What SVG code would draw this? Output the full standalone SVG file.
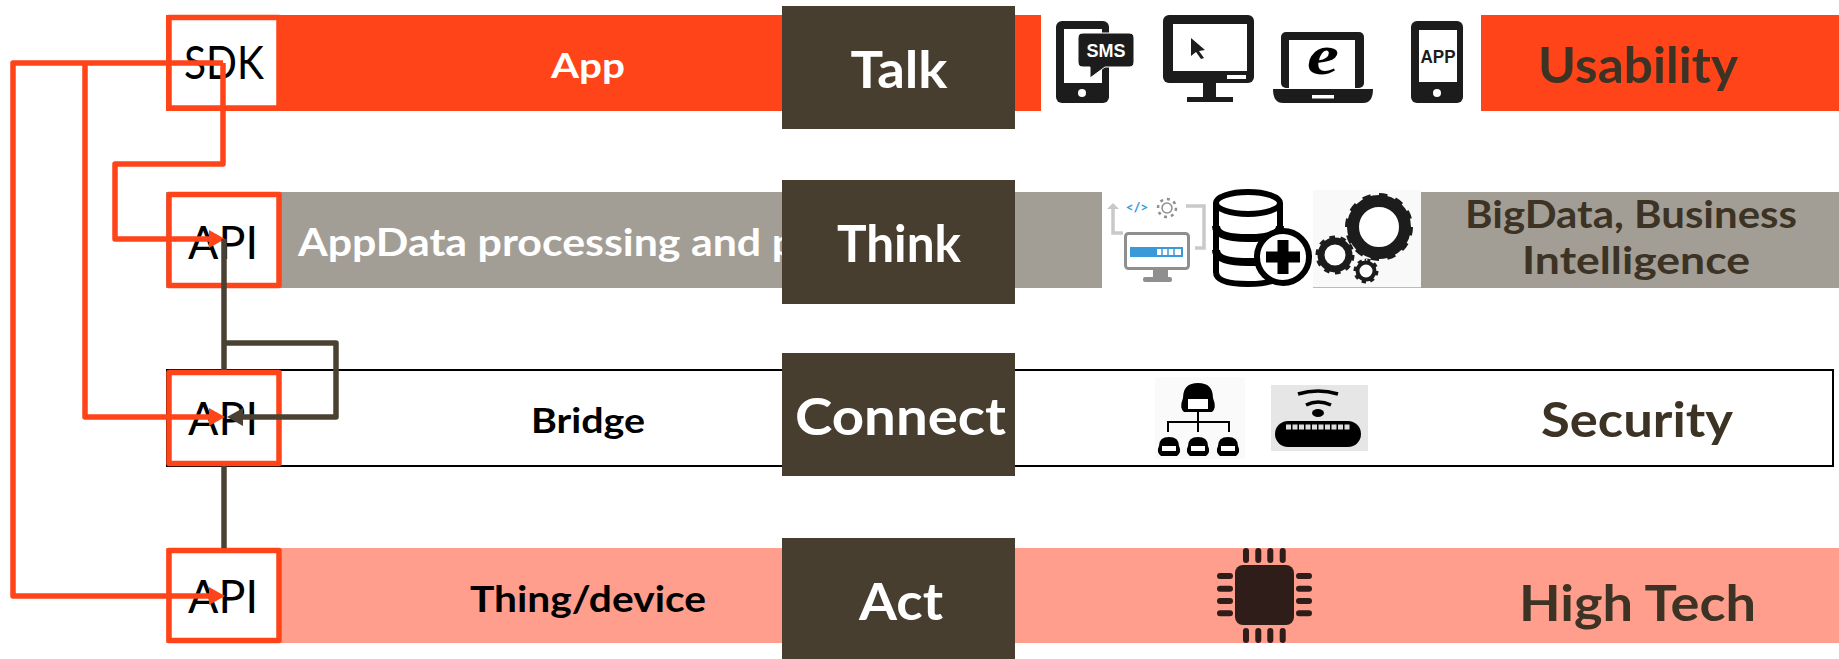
<svg xmlns="http://www.w3.org/2000/svg" width="1839" height="659" viewBox="0 0 1839 659">
<style>
text{font-family:"Lato","Liberation Sans",sans-serif}
.b{font-weight:700}
.w{fill:#fff}
.k{fill:#000}
.d{fill:#3d3325}
.big{font-size:52px;font-weight:700;fill:#fff;text-anchor:middle}
.thin{font-size:46px;font-weight:400;fill:#000}
.ic{font-family:"Liberation Sans",sans-serif;font-size:18px;font-weight:700;text-anchor:middle}
.box{fill:#fff;stroke:#ff4419;stroke-width:5.5;stroke-linejoin:round}
.core{fill:#483e2f}
.or{fill:none;stroke:#ff4419;stroke-width:5.5;stroke-linejoin:round}
.br{fill:none;stroke:#4a4133;stroke-width:5.5;stroke-linejoin:round}
.ink{fill:#1c1c1c}
.wf{fill:#fff}
</style>
<defs>
<marker id="ao" markerUnits="userSpaceOnUse" markerWidth="17" markerHeight="20" refX="0" refY="10" orient="auto"><path d="M0 1L16 10L0 19Z" fill="#ff4419"/></marker>
<marker id="ab" markerUnits="userSpaceOnUse" markerWidth="17" markerHeight="20" refX="0" refY="10" orient="auto"><path d="M0 1L16 10L0 19Z" fill="#4a4133"/></marker>
</defs>
<rect width="1839" height="659" fill="#fff"/>

<g id="bars">
<rect x="166" y="15" width="875" height="96" fill="#ff4419"/>
<rect x="1481" y="15" width="358" height="96" fill="#ff4419"/>
<rect x="166" y="192" width="936" height="96" fill="#a39e95"/>
<rect x="1421" y="192" width="418" height="96" fill="#a39e95"/>
<rect x="167" y="370" width="1666" height="96" fill="#fff" stroke="#000" stroke-width="2"/>
<rect x="166" y="548" width="1673" height="95" fill="#ff9e8c"/>
</g>

<g id="row-labels">
<text class="b w" x="551" y="78" font-size="34" textLength="74" lengthAdjust="spacingAndGlyphs">App</text>
<text class="b d" x="1538" y="83" font-size="50" textLength="200" lengthAdjust="spacingAndGlyphs">Usability</text>
<text class="b w" x="298" y="256" font-size="38" textLength="498" lengthAdjust="spacingAndGlyphs">AppData processing and p</text>
<text class="b d" x="1465" y="228" font-size="38" textLength="332" lengthAdjust="spacingAndGlyphs">BigData, Business</text>
<text class="b d" x="1522" y="274" font-size="38" textLength="228" lengthAdjust="spacingAndGlyphs">Intelligence</text>
<text class="b k" x="531" y="433" font-size="34" textLength="114" lengthAdjust="spacingAndGlyphs">Bridge</text>
<text class="b d" x="1541" y="437" font-size="48" textLength="192" lengthAdjust="spacingAndGlyphs">Security</text>
<text class="b k" x="470" y="612" font-size="36" textLength="236" lengthAdjust="spacingAndGlyphs">Thing/device</text>
<text class="b d" x="1519" y="621" font-size="50" textLength="237" lengthAdjust="spacingAndGlyphs">High Tech</text>
</g>

<g id="icon-sms">
<rect class="ink" x="1056" y="21" width="53" height="82" rx="6"/>
<rect class="wf" x="1064" y="29" width="38" height="54"/>
<circle class="wf" cx="1082" cy="93" r="4"/>
<path d="M1083 33H1129Q1134 33 1134 38V62Q1134 67 1129 67H1105L1090 78V67H1083Q1078 67 1078 62V38Q1078 33 1083 33Z" fill="#1c1c1c" stroke="#fff" stroke-width="1"/>
<text x="1106" y="57" class="ic w">SMS</text>
</g>
<g id="icon-monitor">
<rect class="ink" x="1163" y="15" width="91" height="68" rx="6"/>
<rect class="wf" x="1173" y="24" width="74" height="47"/>
<rect class="wf" x="1227" y="75" width="19" height="4"/>
<rect class="ink" x="1203" y="83" width="13" height="15"/>
<rect class="ink" x="1187" y="97" width="46" height="5"/>
<path class="ink" d="M1191 38L1205 50L1199 51L1204 58L1201 59L1196 52L1191 56Z"/>
</g>
<g id="icon-laptop">
<rect class="ink" x="1281" y="32" width="83" height="56" rx="5"/>
<rect class="wf" x="1289" y="40" width="66" height="48"/>
<path class="ink" d="M1273 89H1373Q1373 103 1363 103H1283Q1273 103 1273 89Z"/>
<rect class="wf" x="1312" y="95" width="22" height="3.5"/>
<text x="1307" y="74" font-size="56" font-weight="700" font-style="italic" textLength="32" lengthAdjust="spacingAndGlyphs" style="font-family:'Liberation Serif',serif" fill="#000">e</text>
</g>
<g id="icon-app">
<rect class="ink" x="1411" y="21" width="52" height="82" rx="6"/>
<rect class="wf" x="1419" y="30" width="38" height="52"/>
<circle class="wf" cx="1437" cy="93" r="4"/>
<text x="1420.500" y="63" class="ic" fill="#1c1c1c" textLength="35" lengthAdjust="spacingAndGlyphs" style="text-anchor:start">APP</text>
</g>

<g id="icon-computer">
<path d="M1123 233H1113V208" fill="none" stroke="#c9c9c9" stroke-width="3.5"/>
<path d="M1107 209L1113 203L1119 209Z" fill="#c9c9c9"/>
<path d="M1186 206H1204V248H1195" fill="none" stroke="#c9c9c9" stroke-width="3.5"/>
<text x="1137" y="212" font-size="14" class="b" fill="#3a9ad9" text-anchor="middle">&lt;/&gt;</text>
<circle cx="1167" cy="208" r="5" fill="none" stroke="#8f8f8f" stroke-width="1.5"/>
<circle cx="1167" cy="208" r="9" fill="none" stroke="#8f8f8f" stroke-width="2.5" stroke-dasharray="3 4"/>
<rect x="1125.500" y="233.500" width="63" height="35" rx="3" fill="#fff" stroke="#8f8f8f" stroke-width="3"/>
<rect x="1131" y="248" width="51" height="8" fill="#fff" stroke="#3a9ad9" stroke-width="2"/>
<rect x="1132" y="249" width="25" height="6" fill="#3a9ad9"/>
<path d="M1162 249v6M1168 249v6M1174 249v6" stroke="#3a9ad9" stroke-width="1.500"/>
<rect x="1153" y="269" width="15" height="9" fill="#8f8f8f"/>
<rect x="1143" y="277" width="29" height="5" rx="2" fill="#8f8f8f"/>
</g>
<g id="icon-database">
<path d="M1216 203V272Q1216 284 1248 284Q1280 284 1280 272V203" fill="#fff" stroke="#000" stroke-width="6"/>
<ellipse cx="1248" cy="203" rx="32" ry="11" fill="#fff" stroke="#000" stroke-width="6"/>
<path d="M1216 226Q1216 238 1248 238Q1280 238 1280 226M1216 250Q1216 262 1248 262Q1280 262 1280 250" fill="none" stroke="#000" stroke-width="8"/>
<circle cx="1283" cy="257" r="26" fill="#fff" stroke="#000" stroke-width="6"/>
<path d="M1283 240V274M1266 257H1300" stroke="#000" stroke-width="11"/>
</g>
<g id="icon-gears">
<rect x="1313" y="190" width="108" height="97" fill="#f9f9f9"/>
<path d="M1313 287.500H1421" stroke="#bbb" stroke-width="1"/>
<circle cx="1379" cy="227" r="26" fill="#fff" stroke="#1c1c1c" stroke-width="12"/>
<circle cx="1379" cy="227" r="31" fill="none" stroke="#1c1c1c" stroke-width="6" pathLength="24" stroke-dasharray="1 1"/>
<circle cx="1335" cy="255" r="14" fill="#fff" stroke="#1c1c1c" stroke-width="7"/>
<circle cx="1335" cy="255" r="17" fill="none" stroke="#1c1c1c" stroke-width="5" pathLength="20" stroke-dasharray="1 1"/>
<circle cx="1366" cy="271" r="8.500" fill="#fff" stroke="#1c1c1c" stroke-width="4"/>
<circle cx="1366" cy="271" r="11" fill="none" stroke="#1c1c1c" stroke-width="3" pathLength="16" stroke-dasharray="1 1"/>
</g>

<g id="icon-org">
<rect x="1155" y="377" width="90" height="82" fill="#fafafa"/>
<path d="M1183 398Q1183 383 1198 383Q1213 383 1213 398Q1217 408 1212 412H1184Q1179 408 1183 398Z"/>
<rect class="wf" x="1188" y="399" width="20" height="10"/>
<path d="M1198 412V432M1168 432V422H1229V432" fill="none" stroke="#000" stroke-width="2"/>
<path d="M1159 446Q1159 437 1169 437Q1179 437 1179 446Q1182 452 1177 456H1161Q1156 452 1159 446Z"/>
<path d="M1188 446Q1188 437 1198 437Q1208 437 1208 446Q1211 452 1206 456H1190Q1185 452 1188 446Z"/>
<path d="M1218 446Q1218 437 1228 437Q1238 437 1238 446Q1241 452 1236 456H1220Q1215 452 1218 446Z"/>
<rect class="wf" x="1162" y="446" width="14" height="5"/>
<rect class="wf" x="1191" y="446" width="14" height="5"/>
<rect class="wf" x="1221" y="446" width="14" height="5"/>
</g>
<g id="icon-router">
<rect x="1271" y="385" width="97" height="66" fill="#e6e6e6"/>
<rect x="1275" y="421" width="86" height="26" rx="13"/>
<path d="M1286 427H1351" stroke="#ddd" stroke-width="5" stroke-dasharray="5 1.500"/>
<ellipse cx="1318" cy="413" rx="6" ry="4"/>
<path d="M1298 394Q1318 388 1338 394M1306 405Q1318 399 1331 405" fill="none" stroke="#000" stroke-width="3.500"/>
</g>

<g id="icon-chip" fill="#2e1d19">
<rect x="1235" y="565" width="59" height="60" rx="8"/>
<path d="M1246 551v9M1258.300 551v9M1270.300 551v9M1282.700 551v9M1246 631v9M1258.300 631v9M1270.300 631v9M1282.700 631v9M1220 576h10M1220 588.700h10M1220 601h10M1220 613.300h10M1299 576h10M1299 588.700h10M1299 601h10M1299 613.300h10" stroke="#2e1d19" stroke-width="6" stroke-linecap="round"/>
</g>

<g id="sdk-box"><rect class="box" x="169" y="17.500" width="110" height="90.500"/><text class="thin" x="184" y="79" textLength="80" lengthAdjust="spacingAndGlyphs">SDK</text></g>
<g id="api-think"><rect class="box" x="169" y="194.500" width="110" height="91"/><text class="thin" x="188" y="259" textLength="70" lengthAdjust="spacingAndGlyphs">API</text></g>
<g id="api-connect"><rect class="box" x="169" y="372.500" width="110" height="91"/><text class="thin" x="188" y="435" textLength="70" lengthAdjust="spacingAndGlyphs">API</text></g>
<g id="api-act"><rect class="box" x="169" y="550.500" width="110" height="90"/><text class="thin" x="188" y="613" textLength="70" lengthAdjust="spacingAndGlyphs">API</text></g>

<g id="connectors">
<path class="or" d="M223 63H13V596H209" marker-end="url(#ao)"/>
<path class="or" d="M85 63V417H209" marker-end="url(#ao)"/>
<path class="or" d="M223 63V164H115V239H209" marker-end="url(#ao)"/>
<path class="br" d="M224 239V370M224 466V548"/>
<path class="br" d="M224 343H336V417H243" marker-end="url(#ab)"/>
</g>

<g id="talk"><rect class="core" x="782" y="6" width="233" height="123"/><text class="big" x="850.500" y="88" textLength="97" lengthAdjust="spacingAndGlyphs" style="text-anchor:start">Talk</text></g>
<g id="think"><rect class="core" x="782" y="180" width="233" height="124"/><text class="big" x="837" y="262" textLength="124" lengthAdjust="spacingAndGlyphs" style="text-anchor:start">Think</text></g>
<g id="connect"><rect class="core" x="782" y="353" width="233" height="123"/><text class="big" x="795" y="435" textLength="211" lengthAdjust="spacingAndGlyphs" style="text-anchor:start">Connect</text></g>
<g id="act"><rect class="core" x="782" y="538" width="233" height="121"/><text class="big" x="859" y="620" textLength="84" lengthAdjust="spacingAndGlyphs" style="text-anchor:start">Act</text></g>
</svg>
